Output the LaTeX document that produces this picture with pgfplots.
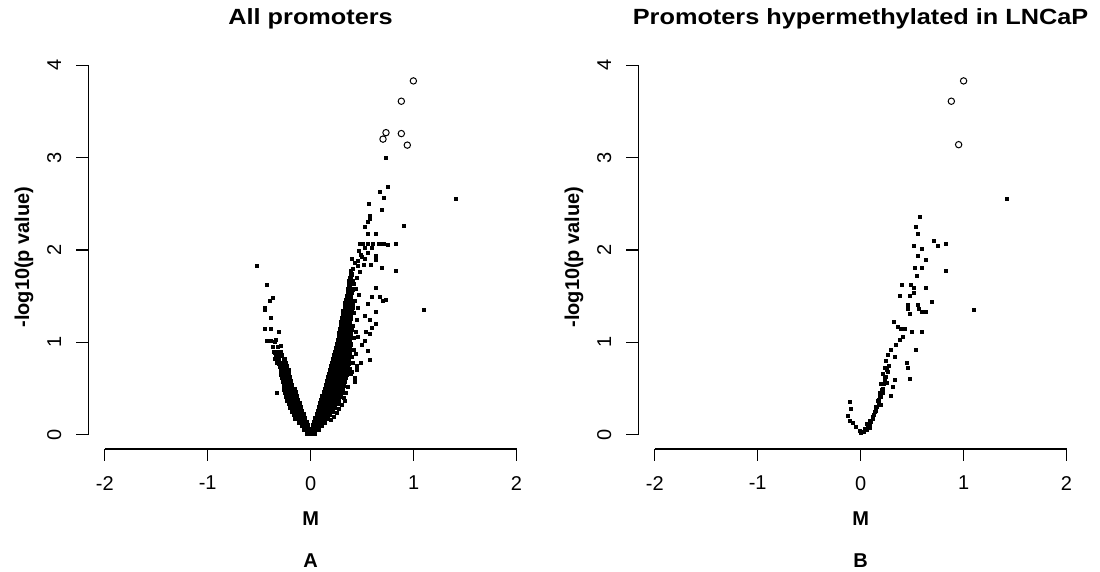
\documentclass[border=0pt]{standalone}
\usepackage{fontspec}
\setmainfont{Liberation Sans}
\usepackage{pgfplots}
\pgfplotsset{compat=1.18}

% R-style panel: detached axes, outside ticks, rotated y labels
\pgfplotsset{
  rpanel/.style={
    scale only axis, width=222.35pt, height=191.9pt,
    xmin=-2.16, xmax=2.16, ymin=-0.1536, ymax=4.0,
    axis x line*=bottom, axis y line*=left,
    axis line style={draw=none},
    tick align=outside, major tick length=6pt,
    every tick/.style={black, line width=0.6pt},
    xtick={-2,-1,0,1,2}, xticklabels={-2,-1,0,1,2},
    ytick={0,1,2,3,4}, yticklabels={0,1,2,3,4},
    tick label style={font=\fontsize{10}{11}\selectfont},
    xticklabel shift=4pt,
    yticklabel style={rotate=90, anchor=south},
    yticklabel shift=4pt,
    clip=false,
  },
  core/.style={only marks, mark=square*, mark size=1pt, black, mark options={line width=0.1pt}},
  dots/.style={only marks, mark=square*, mark size=0.75pt, black, mark options={line width=0.25pt}},
  rings/.style={only marks, mark=o, mark size=1.6pt, black, mark options={line width=0.5pt}},
}

\begin{document}
\begin{tikzpicture}
\path[use as bounding box] (0pt,0pt) rectangle (550pt,-286pt);

% ---------------- Panel A: all promoters ----------------
\begin{axis}[rpanel, at={(44.15pt,-224.5pt)}, anchor=south west]
\draw[line width=0.6pt] (axis cs:-2,-0.1536) -- (axis cs:2,-0.1536);
\draw[line width=0.6pt] (axis cs:-2.16,0) -- (axis cs:-2.16,4);
% dense left arm
\addplot[core] coordinates {
(-0.03,0.02) (0.0,0.02)
(-0.06,0.06) (-0.025,0.06)
(-0.085,0.10) (-0.05,0.10) (-0.03,0.10)
(-0.11,0.14) (-0.075,0.14) (-0.045,0.14)
(-0.15,0.18) (-0.115,0.18) (-0.08,0.18) (-0.06,0.18)
(-0.165,0.22) (-0.13,0.22) (-0.095,0.22) (-0.075,0.22)
(-0.18,0.26) (-0.145,0.26) (-0.11,0.26) (-0.09,0.26)
(-0.20,0.30) (-0.165,0.30) (-0.13,0.30) (-0.10,0.30)
(-0.21,0.34) (-0.175,0.34) (-0.14,0.34) (-0.115,0.34)
(-0.225,0.38) (-0.19,0.38) (-0.155,0.38) (-0.13,0.38)
(-0.235,0.42) (-0.20,0.42) (-0.165,0.42) (-0.14,0.42)
(-0.245,0.46) (-0.21,0.46) (-0.175,0.46) (-0.15,0.46)
(-0.255,0.50) (-0.22,0.50) (-0.185,0.50) (-0.165,0.50)
(-0.26,0.54) (-0.225,0.54) (-0.19,0.54)
(-0.27,0.58) (-0.235,0.58) (-0.20,0.58)
(-0.275,0.62) (-0.24,0.62) (-0.205,0.62)
(-0.285,0.66) (-0.25,0.66) (-0.215,0.66)
(-0.29,0.70) (-0.255,0.70) (-0.22,0.70)
(-0.30,0.74) (-0.265,0.74) (-0.235,0.74)
(-0.31,0.78) (-0.275,0.78) (-0.25,0.78)
(-0.32,0.82) (-0.26,0.82)
(-0.33,0.86) (-0.29,0.86)
(-0.35,0.90) (-0.30,0.90)
};
% dense right arm
\addplot[core] coordinates {
(0.03,0.02)
(0.01,0.06) (0.045,0.06) (0.07,0.06)
(0.02,0.10) (0.055,0.10) (0.09,0.10) (0.10,0.10)
(0.035,0.14) (0.07,0.14) (0.105,0.14) (0.13,0.14)
(0.045,0.18) (0.08,0.18) (0.115,0.18) (0.15,0.18) (0.16,0.18)
(0.06,0.22) (0.095,0.22) (0.13,0.22) (0.165,0.22) (0.18,0.22)
(0.07,0.26) (0.105,0.26) (0.14,0.26) (0.175,0.26) (0.21,0.26)
(0.08,0.30) (0.115,0.30) (0.15,0.30) (0.185,0.30) (0.22,0.30) (0.23,0.30)
(0.095,0.34) (0.13,0.34) (0.165,0.34) (0.20,0.34) (0.235,0.34) (0.255,0.34)
(0.105,0.38) (0.14,0.38) (0.175,0.38) (0.21,0.38) (0.245,0.38) (0.27,0.38)
(0.115,0.42) (0.15,0.42) (0.185,0.42) (0.22,0.42) (0.255,0.42) (0.285,0.42)
(0.13,0.46) (0.165,0.46) (0.20,0.46) (0.235,0.46) (0.27,0.46) (0.30,0.46)
(0.14,0.50) (0.175,0.50) (0.21,0.50) (0.245,0.50) (0.28,0.50) (0.31,0.50)
(0.15,0.54) (0.185,0.54) (0.22,0.54) (0.255,0.54) (0.29,0.54) (0.32,0.54)
(0.16,0.58) (0.195,0.58) (0.23,0.58) (0.265,0.58) (0.30,0.58) (0.325,0.58)
(0.17,0.62) (0.205,0.62) (0.24,0.62) (0.275,0.62) (0.31,0.62) (0.335,0.62)
(0.18,0.66) (0.215,0.66) (0.25,0.66) (0.285,0.66) (0.32,0.66) (0.34,0.66)
(0.19,0.70) (0.225,0.70) (0.26,0.70) (0.295,0.70) (0.33,0.70) (0.35,0.70)
(0.20,0.74) (0.235,0.74) (0.27,0.74) (0.305,0.74) (0.34,0.74) (0.355,0.74)
(0.21,0.78) (0.245,0.78) (0.28,0.78) (0.315,0.78) (0.35,0.78) (0.36,0.78)
(0.22,0.82) (0.255,0.82) (0.29,0.82) (0.325,0.82) (0.36,0.82)
(0.23,0.86) (0.265,0.86) (0.30,0.86) (0.335,0.86) (0.37,0.86)
(0.24,0.90) (0.275,0.90) (0.31,0.90) (0.345,0.90) (0.37,0.90)
(0.25,0.94) (0.285,0.94) (0.32,0.94) (0.355,0.94) (0.375,0.94)
(0.255,0.98) (0.29,0.98) (0.325,0.98) (0.36,0.98) (0.38,0.98)
(0.265,1.02) (0.30,1.02) (0.335,1.02) (0.37,1.02)
(0.275,1.06) (0.31,1.06) (0.345,1.06) (0.38,1.06)
(0.28,1.10) (0.315,1.10) (0.35,1.10) (0.385,1.10)
(0.29,1.14) (0.325,1.14) (0.36,1.14) (0.39,1.14)
(0.295,1.18) (0.33,1.18) (0.365,1.18) (0.39,1.18)
(0.30,1.22) (0.335,1.22) (0.37,1.22)
(0.31,1.26) (0.345,1.26) (0.38,1.26)
(0.315,1.30) (0.35,1.30) (0.385,1.30)
(0.32,1.34) (0.355,1.34) (0.39,1.34)
(0.33,1.38) (0.365,1.38) (0.40,1.38)
(0.335,1.42) (0.37,1.42) (0.40,1.42)
(0.345,1.46) (0.38,1.46)
(0.35,1.50) (0.385,1.50)
(0.36,1.54) (0.395,1.54)
(0.365,1.58) (0.40,1.58)
(0.37,1.62)
(0.375,1.66) (0.405,1.66)
(0.38,1.70)
(0.39,1.74)
};
% scattered points
\addplot[dots] coordinates {
(-0.524,1.83) (-0.423,1.62) (-0.368,1.48) (-0.40,1.45) (-0.449,1.38) (-0.449,1.35)
(-0.39,1.27) (-0.443,1.15) (-0.385,1.15) (-0.31,1.11) (-0.423,1.02) (-0.385,1.02)
(-0.352,1.01) (-0.336,1.03) (-0.368,0.95) (-0.32,0.95) (-0.287,0.96) (-0.326,0.46)
(-0.36,0.90) (-0.34,0.86) (-0.31,0.88) (-0.35,0.82) (-0.33,0.78)
(0.20,0.16) (0.22,0.20) (0.25,0.24) (0.27,0.28) (0.30,0.32) (0.33,0.37)
(0.36,0.52) (0.34,0.45) (0.32,0.40)
(0.40,0.85) (0.42,0.92) (0.39,0.97) (0.44,0.88) (0.41,0.78) (0.38,0.72) (0.40,0.68)
(0.42,1.05) (0.44,1.12) (0.41,1.18) (0.45,1.25) (0.42,1.32) (0.46,1.38) (0.43,1.45)
(0.47,1.52) (0.44,1.58) (0.42,1.64) (0.45,1.70) (0.48,1.76) (0.41,1.80) (0.43,1.86)
(0.46,1.83) (0.39,1.78) (0.40,1.90)
(0.631,1.89) (0.686,1.81) (0.826,1.78) (0.628,1.59) (0.59,1.49) (0.67,1.49)
(0.703,1.45) (0.726,1.46) (0.557,1.42) (0.628,1.33) (1.10,1.35) (0.524,1.29)
(0.573,1.24) (0.628,1.20) (0.596,1.16) (0.54,1.11) (0.573,1.09) (0.46,1.06)
(0.53,1.02) (0.50,0.98) (0.55,0.91) (0.573,0.81) (0.486,0.78) (0.443,0.75)
(0.452,0.70) (0.394,0.66) (0.427,0.62) (0.427,0.57) (0.36,0.52)
(0.47,1.99) (0.50,1.93) (0.53,1.90) (0.46,1.88) (0.58,1.84) (0.52,1.84)
(0.491,1.95) (0.55,1.97) (0.628,1.94) (0.524,2.02) (0.589,2.02)
(0.475,2.07) (0.508,2.07) (0.557,2.07) (0.605,2.07) (0.66,2.07) (0.686,2.07)
(0.712,2.07) (0.751,2.06) (0.826,2.07)
(0.55,2.175) (0.628,2.175) (0.53,2.25) (0.903,2.26) (0.55,2.31) (0.57,2.34)
(0.57,2.37) (0.689,2.44) (0.569,2.50) (1.41,2.55) (0.709,2.57) (0.667,2.63)
(0.748,2.68) (0.725,3.00)
};
\addplot[rings] coordinates {
(0.998,3.83) (0.881,3.61) (0.881,3.26) (0.939,3.135) (0.732,3.27) (0.703,3.20)
};
\end{axis}

% ---------------- Panel B: hypermethylated in LNCaP ----------------
\begin{axis}[rpanel, at={(319.15pt,-224.5pt)}, anchor=south west]
\draw[line width=0.6pt] (axis cs:-2,-0.1536) -- (axis cs:2,-0.1536);
\draw[line width=0.6pt] (axis cs:-2.16,0) -- (axis cs:-2.16,4);
\addplot[dots] coordinates {
(0.572,2.36) (0.535,2.25) (0.554,2.18) (0.709,2.095) (0.751,2.05) (0.822,2.07)
(0.514,2.05) (0.592,2.01) (0.556,1.94) (0.631,1.89) (0.524,1.81) (0.589,1.81)
(0.826,1.78) (0.549,1.72) (0.401,1.62) (0.491,1.62) (0.517,1.59) (0.631,1.59)
(0.378,1.51) (0.476,1.51) (0.514,1.54) (0.693,1.445) (0.453,1.41) (0.459,1.36)
(0.556,1.41) (0.563,1.36) (0.595,1.33) (0.637,1.33) (0.479,1.31) (1.098,1.35)
(1.416,2.55)
(0.323,1.22) (0.362,1.17) (0.388,1.15) (0.433,1.15) (0.498,1.11) (0.589,1.11)
(0.41,1.06) (0.384,1.03) (0.345,0.97) (0.533,0.92)
(0.297,0.92) (0.264,0.87) (0.329,0.84) (0.248,0.80)
(0.443,0.78) (0.453,0.73) (0.476,0.61)
(0.232,0.73) (0.216,0.66) (0.264,0.68) (0.238,0.59) (0.199,0.55) (0.258,0.56)
(0.336,0.595) (0.297,0.42) (0.313,0.52)
(0.187,0.46) (0.216,0.46) (0.20,0.41) (0.167,0.37) (0.193,0.33) (0.15,0.30)
(0.141,0.245) (0.118,0.19) (0.102,0.14) (0.086,0.08)
(-0.109,0.353) (-0.099,0.28) (-0.125,0.21) (-0.109,0.155) (-0.076,0.126)
(-0.044,0.09) (-0.011,0.047) (0.005,0.021) (0.037,0.064) (0.063,0.118) (0.086,0.155)
(0.13,0.22) (0.16,0.30) (0.175,0.38) (0.20,0.45) (0.21,0.50) (0.22,0.55)
(0.235,0.62) (0.12,0.17) (0.09,0.12) (0.07,0.10) (0.06,0.06) (0.03,0.03)
(0.15,0.26) (0.18,0.34) (0.19,0.41) (0.205,0.49) (0.245,0.63) (0.255,0.70) (0.27,0.75)
};
\addplot[rings] coordinates {
(1.0,3.83) (0.881,3.61) (0.952,3.14)
};
\end{axis}

% ---------------- titles and labels ----------------
\node[anchor=base, font=\fontsize{11}{13}\selectfont\bfseries] at (155.3pt,-12.5pt)
  {\scalebox{1.15}[1]{All promoters}};
\node[anchor=base, font=\fontsize{11}{13}\selectfont\bfseries] at (430.3pt,-12.5pt)
  {\scalebox{1.15}[1]{Promoters hypermethylated in LNCaP}};
\node[font=\fontsize{10}{12}\selectfont\bfseries] at (155.3pt,-259.5pt) {M};
\node[font=\fontsize{10}{12}\selectfont\bfseries] at (430.3pt,-259.5pt) {M};
\node[font=\fontsize{10}{12}\selectfont\bfseries] at (155.3pt,-280.5pt) {A};
\node[font=\fontsize{10}{12}\selectfont\bfseries] at (430.3pt,-280.5pt) {B};
\node[rotate=90, font=\fontsize{10}{12}\selectfont\bfseries] at (12pt,-128.5pt) {-log10(p value)};
\node[rotate=90, font=\fontsize{10}{12}\selectfont\bfseries] at (287pt,-128.5pt) {-log10(p value)};
\end{tikzpicture}
\end{document}
